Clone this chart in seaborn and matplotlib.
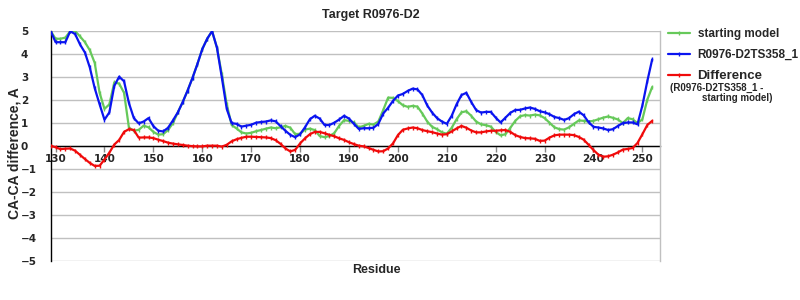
import numpy as np
import pandas as pd
import matplotlib
matplotlib.use("Agg")
import matplotlib.pyplot as plt
import seaborn as sns

residues = list(range(129, 253))

model_ts358 = [
    4.98, 4.50, 4.50, 4.50, 4.98, 4.85, 4.40, 4.05, 3.40, 2.50,
    1.80, 1.13, 1.45, 2.60, 3.00, 2.80, 1.85, 1.20, 0.97, 1.05,
    1.20, 0.85, 0.65, 0.62, 0.78, 1.10, 1.45, 1.90, 2.40, 2.95,
    3.55, 4.20, 4.65, 4.98, 4.26, 2.96, 1.60, 0.98, 0.95, 0.83,
    0.87, 0.91, 1.00, 1.03, 1.05, 1.10, 1.06, 0.85, 0.65, 0.47,
    0.37, 0.50, 0.80, 1.15, 1.30, 1.18, 0.90, 0.90, 1.00, 1.14,
    1.30, 1.18, 0.95, 0.73, 0.76, 0.76, 0.78, 0.95, 1.40, 1.65,
    1.95, 2.18, 2.25, 2.38, 2.48, 2.45, 2.20, 1.75, 1.44, 1.20,
    1.05, 0.95, 1.30, 1.80, 2.20, 2.30, 1.90, 1.55, 1.44, 1.47,
    1.47, 1.22, 1.01, 1.22, 1.43, 1.55, 1.56, 1.62, 1.66, 1.60,
    1.50, 1.45, 1.37, 1.25, 1.20, 1.12, 1.20, 1.37, 1.48, 1.32,
    1.02, 0.82, 0.79, 0.75, 0.68, 0.72, 0.86, 0.98, 1.01, 1.01,
    0.93, 1.75, 2.80, 3.75,
]

starting_model = [
    4.98, 4.65, 4.65, 4.70, 4.98, 4.98, 4.75, 4.50, 4.15, 3.60,
    2.30, 1.60, 1.80, 2.75, 2.70, 2.30, 0.78, 0.65, 0.69, 0.87,
    0.80, 0.60, 0.48, 0.50, 0.68, 0.98, 1.45, 1.90, 2.40, 2.95,
    3.55, 4.20, 4.65, 4.98, 4.26, 3.10, 1.80, 0.90, 0.75, 0.58,
    0.53, 0.56, 0.63, 0.68, 0.74, 0.79, 0.76, 0.80, 0.86, 0.78,
    0.50, 0.52, 0.70, 0.74, 0.68, 0.42, 0.37, 0.42, 0.55, 0.87,
    1.11, 1.08, 1.01, 0.80, 0.86, 0.95, 0.92, 1.05, 1.55, 2.09,
    2.08, 1.94, 1.76, 1.69, 1.73, 1.70, 1.40, 1.05, 0.82, 0.72,
    0.58, 0.52, 0.78, 1.15, 1.45, 1.50, 1.30, 1.05, 0.93, 0.89,
    0.83, 0.60, 0.45, 0.50, 0.78, 1.08, 1.28, 1.33, 1.31, 1.35,
    1.32, 1.20, 1.00, 0.80, 0.72, 0.70, 0.80, 0.95, 1.10, 1.08,
    1.05, 1.08, 1.15, 1.22, 1.27, 1.21, 1.14, 0.98, 1.20, 1.15,
    0.98, 1.15, 2.00, 2.55,
]

difference = [
    0.00, -0.07, -0.15, -0.13, -0.12, -0.22, -0.40, -0.58, -0.75, -0.88,
    -0.87, -0.60, -0.30, 0.05, 0.25, 0.60, 0.72, 0.68, 0.35, 0.36,
    0.36, 0.33, 0.26, 0.20, 0.13, 0.09, 0.06, 0.03, 0.00, -0.02,
    -0.03, -0.03, 0.00, 0.00, 0.00, -0.04, 0.04, 0.19, 0.28, 0.34,
    0.39, 0.39, 0.38, 0.37, 0.36, 0.33, 0.24, 0.08, -0.12, -0.25,
    -0.18, 0.10, 0.32, 0.50, 0.60, 0.60, 0.54, 0.47, 0.41, 0.32,
    0.25, 0.15, 0.07, 0.00, -0.03, -0.10, -0.18, -0.25, -0.24, -0.12,
    0.10, 0.46, 0.69, 0.75, 0.79, 0.76, 0.68, 0.63, 0.59, 0.53,
    0.48, 0.50, 0.62, 0.75, 0.86, 0.78, 0.66, 0.58, 0.58, 0.62,
    0.65, 0.65, 0.67, 0.68, 0.60, 0.46, 0.38, 0.33, 0.32, 0.30,
    0.21, 0.22, 0.35, 0.45, 0.48, 0.48, 0.48, 0.46, 0.38, 0.26,
    0.04, -0.19, -0.39, -0.48, -0.46, -0.39, -0.29, -0.17, -0.14, -0.10,
    0.12, 0.50, 0.90, 1.08,
]

series_names = ["starting model", "R0976-D2TS358_1", "Difference"]
series_colors = ["#66c95a", "#0a14f0", "#f00a0a"]
x_ticks = [130, 140, 150, 160, 170, 180, 190, 200, 210, 220, 230, 240, 250]
y_ticks = [-5, -4, -3, -2, -1, 0, 1, 2, 3, 4, 5]

sns.set_theme(style="white")
plt.rcParams["font.family"] = ["DejaVu Sans"]

fig = plt.figure(figsize=(8, 3), dpi=100)
ax = fig.add_axes([50.7 / 800, 1 - 260.7 / 300, (660 - 50.7) / 800, 230 / 300])

frames = {
    series_names[0]: starting_model,
    series_names[1]: model_ts358,
    series_names[2]: difference,
}
for name, color in zip(series_names, series_colors):
    df = pd.DataFrame({"Residue": residues, "value": frames[name]})
    sns.lineplot(data=df, x="Residue", y="value", ax=ax, color=color,
                 linewidth=1.6, marker="|", markersize=3.5,
                 markeredgewidth=1.0, markeredgecolor=color, label=name,
                 clip_on=True, zorder=3)

ax.set_xlim(129, 253.6)
ax.set_ylim(-5, 5)
ax.set_yticks(y_ticks)
ax.set_xticks(x_ticks)
ax.yaxis.grid(True, color="#c0c0c0", linewidth=1.0)
ax.xaxis.grid(False)
ax.set_axisbelow(True)

ax.spines["top"].set_visible(False)
ax.spines["right"].set_color("#c0c0c0")
ax.spines["right"].set_linewidth(1.0)
ax.spines["left"].set_color("black")
ax.spines["left"].set_linewidth(1.0)
ax.spines["bottom"].set_position(("data", 0))
ax.spines["bottom"].set_color("black")
ax.spines["bottom"].set_linewidth(1.0)
ax.spines["bottom"].set_zorder(2)

ax.tick_params(axis="x", which="both", bottom=True, length=4, width=1,
               color="#888888", direction="out", pad=2, labelsize=7.5)
ax.tick_params(axis="y", which="both", left=False, pad=15.5, labelsize=7.5)
for lab in ax.get_xticklabels() + ax.get_yticklabels():
    lab.set_fontweight("bold")
for lab in ax.get_yticklabels():
    lab.set_horizontalalignment("left")

ax.set_xlabel("")
ax.set_ylabel("")

fig.text(371 / 800, 1 - 15 / 300, "Target R0976-D2", ha="center", va="center",
         fontsize=9, fontweight="bold", family="Liberation Sans")
fig.text(376 / 800, 1 - 270 / 300, "Residue", ha="center", va="center",
         fontsize=9, fontweight="bold", family="Liberation Sans")
fig.text(15 / 800, 1 - 153 / 300, "CA-CA difference, A", ha="center",
         va="center", rotation=90, fontsize=10, fontweight="bold",
         family="Liberation Sans")

leg = ax.legend(loc="upper left", bbox_to_anchor=(668 / 800, 1 - 28 / 300),
                bbox_transform=fig.transFigure, frameon=False,
                prop={"family": "Liberation Sans", "weight": "bold", "size": 8.5},
                handlelength=1.9, handletextpad=0.6, labelspacing=0.75,
                borderpad=0, borderaxespad=0)
for t in leg.get_texts():
    if t.get_text() == "Difference":
        t.set_fontsize(9.5)

fig.text(670 / 800, 1 - 87.5 / 300, "(R0976-D2TS358_1 -", ha="left", va="center",
         fontsize=7, fontweight="bold", family="Liberation Sans")
fig.text(702 / 800, 1 - 98 / 300, "starting model)", ha="left", va="center",
         fontsize=7, fontweight="bold", family="Liberation Sans")

fig.savefig("out.png", dpi=100)
